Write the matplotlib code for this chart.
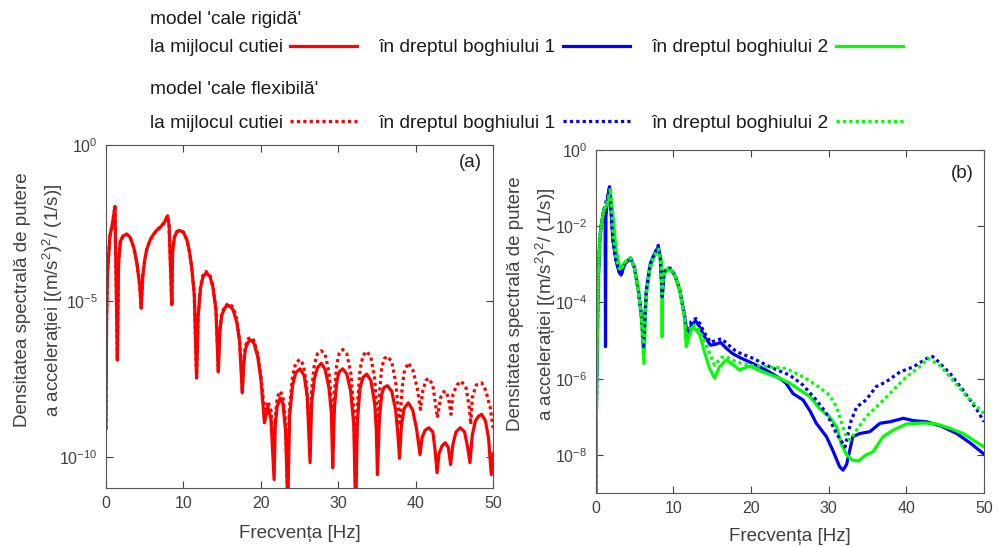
import numpy as np
import matplotlib
matplotlib.use('Agg')
import matplotlib.pyplot as plt

plt.rcParams['font.family'] = ['Liberation Sans', 'DejaVu Sans']
plt.rcParams['mathtext.fontset'] = 'custom'
plt.rcParams['mathtext.rm'] = 'Liberation Sans'
plt.rcParams['mathtext.it'] = 'Liberation Sans:italic'
plt.rcParams['axes.unicode_minus'] = False

# ---- (a) la mijlocul cutiei, values are log10 of the PSD ----
freq_a_rigid = [0, 0.08, 0.2, 0.5, 0.85, 1.16, 1.47, 1.62, 1.85, 2.2, 2.67, 3.1, 3.6, 4.0, 4.35, 4.55,
                4.75, 5.0, 5.25, 5.7, 6.1, 6.5, 7.0, 7.5, 7.96, 8.15, 8.5, 8.6, 8.85, 9.15, 9.52, 10.0,
                10.45, 10.8, 11.1, 11.4, 11.7, 11.9, 12.2, 12.5, 12.9, 13.4, 13.8, 14.2, 14.5,
                14.7, 14.95, 15.4, 15.9, 16.4, 16.9, 17.25, 17.6, 17.8, 18.0, 18.35, 18.7, 19.1, 19.6,
                20.0, 20.46, 20.9, 21.3, 21.71, 21.85, 22.1, 22.48, 22.85, 23.2, 23.47,
                23.7, 24.1, 24.5, 25.06, 25.6, 26.0, 26.35, 26.55, 26.9, 27.3, 27.8, 28.3, 28.8, 29.1,
                29.28, 29.5, 29.8, 30.1, 30.57, 31.1, 31.6, 32.0, 32.24, 32.45, 32.8, 33.2, 33.66,
                34.2, 34.7, 34.9, 35.05, 35.3, 35.6, 35.9, 36.33, 36.9, 37.4, 37.7, 37.9, 38.15, 38.5,
                39.04, 39.6, 40.1, 40.55, 40.8, 41.2, 41.7, 42.2, 42.5, 42.75, 43.0, 43.4, 43.8,
                44.2, 44.5, 44.8, 45.2, 45.75, 46.3, 46.7, 47.0, 47.3, 47.7, 48.1, 48.5, 49.0, 49.4,
                49.75, 50.0]
psd_a_rigid = [-9.1, -5.5, -4.1, -2.93, -2.5, -1.97, -6.9, -3.8, -3.1, -2.92, -2.86, -2.95, -3.3, -3.8, -4.5, -5.23,
               -4.2, -3.7, -3.36, -3.05, -2.88, -2.75, -2.64, -2.5, -2.27, -2.6, -5.12, -3.4, -2.95, -2.78, -2.74, -2.8,
               -3.04, -3.45, -4.0, -4.8, -7.47, -5.5, -4.6, -4.25, -4.11, -4.2, -4.55, -5.3, -7.28,
               -6.0, -5.45, -5.2, -5.15, -5.28, -5.7, -6.3, -7.95, -7.0, -6.55, -6.32, -6.26, -6.35, -6.8,
               -7.5, -8.91, -8.38, -8.8, -10.73, -9.0, -8.4, -8.11, -8.3, -9.2, -11.6,
               -8.7, -7.7, -7.3, -7.18, -7.4, -8.1, -10.19, -8.3, -7.5, -7.15, -7.0, -7.2, -7.8, -8.6,
               -10.35, -8.4, -7.6, -7.28, -7.18, -7.35, -7.9, -9.0, -11.8, -8.9, -7.8, -7.45, -7.35,
               -7.55, -8.3, -9.1, -10.57, -8.8, -8.0, -7.78, -7.72, -7.9, -8.5, -9.3, -10.05, -9.0, -8.45,
               -8.27, -8.5, -9.1, -9.93, -9.4, -9.15, -9.07, -9.2, -9.8, -10.51, -9.9, -9.65, -9.55,
               -9.7, -10.25, -9.6, -9.2, -9.07, -9.2, -9.7, -10.19, -9.3, -8.85, -8.7, -8.64, -8.85, -9.4,
               -10.57, -9.9]

freq_a_flex = freq_a_rigid[:37] + [
    11.9, 12.2, 12.5, 12.9, 13.4, 13.8, 14.2, 14.5,
    14.7, 14.95, 15.4, 15.9, 16.4, 16.9, 17.25, 17.6, 17.8, 18.0, 18.35, 18.7, 19.1, 19.6,
    20.0, 20.5, 20.9, 21.3, 21.71, 21.85, 22.1, 22.48, 22.85, 23.2, 23.47,
    23.7, 24.1, 24.5, 25.0, 25.5, 25.9, 26.3, 26.55, 26.9, 27.3, 27.8, 28.3, 28.8, 29.1,
    29.3, 29.5, 29.8, 30.1, 30.57, 31.1, 31.6, 32.0, 32.24, 32.45, 32.8, 33.2, 33.66,
    34.2, 34.7, 35.0, 35.1, 35.3, 35.6, 35.95, 36.33, 36.9, 37.4, 37.8, 37.96, 38.2, 38.5,
    39.0, 39.6, 40.2, 40.6, 40.9, 41.3, 41.7, 42.2, 42.8, 43.2, 43.6, 43.9, 44.2, 44.55,
    44.8, 45.3, 45.9, 46.5, 46.9, 47.1, 47.3, 47.8, 48.5, 49.0, 49.6, 50.0]
psd_a_flex = psd_a_rigid[:37] + [
    -5.5, -4.55, -4.2, -4.06, -4.16, -4.5, -5.25, -7.1,
    -5.95, -5.4, -5.15, -5.08, -5.2, -5.6, -6.25, -7.8, -6.9, -6.45, -6.22, -6.17, -6.27, -6.7,
    -7.4, -8.6, -8.22, -8.5, -10.0, -8.8, -8.1, -7.9, -8.05, -8.9, -11.5,
    -8.4, -7.4, -7.0, -6.88, -7.05, -7.7, -9.4, -7.9, -7.05, -6.7, -6.6, -6.72, -7.3, -8.2,
    -9.5, -7.9, -7.05, -6.7, -6.56, -6.7, -7.3, -8.5, -11.3, -8.4, -7.2, -6.75, -6.62,
    -6.8, -7.5, -8.6, -9.8, -8.0, -7.15, -6.85, -6.78, -6.95, -7.6, -8.6, -9.0, -7.9, -7.3,
    -6.99, -7.2, -7.8, -8.48, -7.9, -7.55, -7.49, -7.7, -8.75, -8.1, -7.92, -7.9, -8.1, -8.64,
    -8.0, -7.7, -7.58, -7.8, -8.4, -8.96, -8.1, -7.7, -7.63, -7.85, -8.4, -9.1]

# ---- (b) in dreptul boghiurilor, log10 of the PSD ----
freq_b1_rigid = [0, 0.05, 0.12, 0.3, 0.5, 0.7, 1.03, 1.2, 1.25, 1.3, 1.5, 1.77, 2.2, 2.6, 3.0, 3.26, 3.7,
                 4.47, 5.0, 5.5, 5.9, 6.17, 6.5, 7.0, 7.5, 8.04, 8.3, 8.55, 8.8, 9.2, 9.6, 10.2, 10.8,
                 11.4, 11.8, 12.3, 12.85, 13.4, 14.0, 14.78, 15.4, 16.07, 16.8, 17.6, 18.6, 19.8, 21.9,
                 23.7, 24.5, 25.4, 26.7, 27.6, 28.4, 29.7, 30.5, 31.4, 31.85, 32.3, 33.1, 34.0, 35.3,
                 36.6, 37.9, 39.6, 40.9, 42.6, 44.4, 46.5, 48.3, 50.0]
psd_b1_rigid = [-9.1, -7.5, -6.0, -3.5, -2.4, -1.97, -1.57, -1.75, -5.16, -1.75, -1.3, -0.96, -2.36, -2.9,
                -3.2, -3.28, -3.0, -2.83, -3.1, -3.7, -4.4, -5.0, -3.7, -3.0, -2.75, -2.54, -2.8, -3.85,
                -3.2, -3.13, -3.13, -3.3, -3.67, -4.3, -4.9, -4.6, -4.48, -4.65, -4.9, -5.12, -5.1, -5.05,
                -5.2, -5.34, -5.45, -5.56, -5.77, -5.99, -6.12, -6.39, -6.56, -6.85, -7.17, -7.52, -7.87,
                -8.31, -8.40, -8.25, -7.52, -7.44, -7.39, -7.17, -7.13, -7.04, -7.1, -7.13, -7.24, -7.44,
                -7.7, -7.98]

freq_b2_rigid = [0, 0.05, 0.12, 0.3, 0.5, 0.7, 1.03, 1.4, 1.9, 2.2, 2.6, 3.0, 3.26, 3.7, 4.47, 5.0, 5.5,
                 5.9, 6.19, 6.5, 7.0, 7.5, 7.9, 8.1, 8.45, 8.55, 8.62, 8.8, 9.2, 9.6, 10.2, 10.8, 11.4,
                 11.65, 12.0, 12.4, 12.9, 13.4, 14.0, 14.6, 15.3, 15.9, 16.8, 17.6, 18.5, 19.8, 21.5,
                 23.7, 25.0, 26.3, 27.6, 28.8, 30.1, 31.0, 31.6, 32.3, 33.1, 33.8, 34.8, 35.7, 37.0,
                 38.3, 40.0, 42.2, 43.9, 45.6, 47.3, 48.6, 50.0]
psd_b2_rigid = [-9.1, -7.5, -6.0, -3.5, -2.4, -1.97, -1.57, -1.45, -1.14, -1.7, -2.6, -3.0, -3.1, -2.95,
                -2.83, -3.1, -3.7, -4.5, -5.6, -3.8, -3.1, -2.8, -2.65, -2.67, -2.9, -4.9, -3.4, -3.24,
                -3.15, -3.13, -3.3, -3.67, -4.37, -5.16, -4.9, -4.65, -4.72, -4.85, -5.3, -5.7, -5.99,
                -5.7, -5.51, -5.62, -5.77, -5.67, -5.82, -5.99, -6.12, -6.3, -6.47, -6.78, -7.0, -7.26,
                -7.7, -8.0, -8.14, -8.16, -8.0, -7.92, -7.52, -7.35, -7.19, -7.16, -7.19, -7.3, -7.44,
                -7.61, -7.79]

freq_b1_flex = [0, 0.05, 0.12, 0.3, 0.5, 0.7, 1.03, 1.4, 1.77, 2.2, 2.6, 3.0, 3.26, 3.7, 4.47, 5.0, 5.5,
                5.9, 6.15, 6.5, 7.0, 7.5, 8.04, 8.3, 8.55, 8.8, 9.2, 9.6, 10.2, 10.8, 11.4, 11.8, 12.3,
                12.9, 13.4, 14.0, 14.8, 15.4, 16.2, 17.0, 18.1, 20.3, 22.4, 25.0, 26.7, 28.4, 29.7, 31.0,
                32.1, 32.9, 33.6, 34.8, 36.1, 37.4, 39.2, 40.9, 42.6, 43.4, 43.9, 45.6, 47.3, 49.1, 50.0]
psd_b1_flex = [-9.1, -7.5, -6.0, -3.5, -2.4, -1.97, -1.57, -1.3, -0.96, -2.36, -2.9, -3.2, -3.28, -3.0,
               -2.83, -3.1, -3.7, -4.4, -5.16, -3.7, -3.0, -2.75, -2.5, -2.8, -3.85, -3.2, -3.1, -3.1,
               -3.28, -3.65, -4.3, -4.85, -4.5, -4.42, -4.55, -4.8, -5.05, -5.0, -4.95, -5.1, -5.29,
               -5.47, -5.69, -5.91, -6.17, -6.56, -6.91, -7.44, -7.79, -7.09, -6.74, -6.56, -6.21,
               -6.08, -5.82, -5.69, -5.47, -5.42, -5.51, -5.86, -6.3, -6.82, -7.13]

freq_b2_flex = [0, 0.05, 0.12, 0.3, 0.5, 0.7, 1.03, 1.4, 1.9, 2.2, 2.6, 3.0, 3.26, 3.7, 4.47, 5.0, 5.5,
                5.9, 6.15, 6.5, 7.0, 7.5, 8.04, 8.3, 8.55, 8.8, 9.2, 9.6, 10.2, 10.8, 11.4, 11.75, 12.3,
                12.9, 13.4, 14.0, 14.6, 15.3, 16.1, 16.8, 18.1, 19.8, 22.4, 24.5, 26.7, 28.4, 30.1, 31.0,
                32.1, 32.7, 33.6, 34.8, 36.6, 38.3, 40.0, 41.7, 42.8, 44.3, 46.0, 47.8, 49.1, 50.0]
psd_b2_flex = [-9.1, -7.5, -6.0, -3.5, -2.4, -1.97, -1.57, -1.4, -1.0, -2.2, -2.85, -3.1, -3.15, -2.95,
               -2.83, -3.1, -3.7, -4.4, -5.1, -3.7, -3.05, -2.8, -2.6, -2.85, -3.6, -3.2, -3.12, -3.12,
               -3.3, -3.67, -4.35, -5.0, -4.6, -4.6, -4.75, -5.0, -5.3, -5.65, -5.45, -5.42, -5.56,
               -5.65, -5.69, -5.73, -5.95, -6.17, -6.43, -6.74, -7.44, -7.61, -7.35, -7.0, -6.65, -6.3,
               -5.95, -5.69, -5.47, -5.65, -6.04, -6.47, -6.74, -6.91]

xticks = [0, 10, 20, 30, 40, 50]
yticks_a = [1e0, 1e-5, 1e-10]
yticks_b = [1e0, 1e-2, 1e-4, 1e-6, 1e-8]

red = '#ff0000'
blue = '#0000ff'
green = '#00ff00'
gray = '#404040'
lw = 2.3
dot = (0, (1, 1))

fig = plt.figure(figsize=(9.98, 5.47), dpi=100)
ax1 = fig.add_axes([0.1062, 0.108, 0.388, 0.627])
ax2 = fig.add_axes([0.597, 0.0987, 0.389, 0.627])

l_red_f, = ax1.plot(freq_a_flex, 10 ** np.array(psd_a_flex), color=red, lw=lw, ls=dot)
l_red, = ax1.plot(freq_a_rigid, 10 ** np.array(psd_a_rigid), color=red, lw=lw)

l_blue, = ax2.plot(freq_b1_rigid, 10 ** np.array(psd_b1_rigid), color=blue, lw=lw)
l_green, = ax2.plot(freq_b2_rigid, 10 ** np.array(psd_b2_rigid), color=green, lw=lw)
l_blue_f, = ax2.plot(freq_b1_flex, 10 ** np.array(psd_b1_flex), color=blue, lw=lw, ls=dot)
l_green_f, = ax2.plot(freq_b2_flex, 10 ** np.array(psd_b2_flex), color=green, lw=lw, ls=dot)

ylabel = 'Densitatea spectrală de putere\na accelerației [(m/s$^2$)$^2$/ (1/s)]'
for ax, yl, yt in [(ax1, (1e-11, 1), yticks_a), (ax2, (1e-9, 1), yticks_b)]:
    ax.set_yscale('log')
    ax.set_xlim(0, 50)
    ax.set_ylim(*yl)
    ax.set_xticks(xticks)
    ax.set_yticks(yt)
    ax.yaxis.set_minor_locator(matplotlib.ticker.NullLocator())
    ax.tick_params(direction='in', length=5, width=0.8, top=True, right=True,
                   labelsize=11.5, colors=gray, pad=6)
    for s in ax.spines.values():
        s.set_color('#555555')
        s.set_linewidth(0.8)
    ax.set_xlabel('Frecvența [Hz]', fontsize=13.5, color=gray)
    ax.set_ylabel(ylabel, fontsize=13.5, color=gray, linespacing=1.55)

ax1.xaxis.set_label_coords(0.5, -0.108)
ax2.xaxis.set_label_coords(0.5, -0.103)
ax1.yaxis.set_label_coords(-0.106, 0.548)
ax2.yaxis.set_label_coords(-0.097, 0.551)

ax1.text(0.94, 0.948, '(a)', transform=ax1.transAxes, ha='center', va='center', fontsize=13.5, color='#222222')
ax2.text(0.943, 0.933, '(b)', transform=ax2.transAxes, ha='center', va='center', fontsize=13.5, color='#222222')

leg_kw = dict(loc='upper left', ncol=3, markerfirst=False, frameon=False, alignment='left',
              fontsize=13.8, title_fontsize=13.8, handlelength=3.5, handletextpad=0.4,
              columnspacing=1.1, borderpad=0, borderaxespad=0, labelcolor='#1a1a1a')
leg1 = fig.legend(handles=[l_red, l_blue, l_green],
                  labels=['la mijlocul cutiei', 'în dreptul boghiului 1', 'în dreptul boghiului 2'],
                  title="model 'cale rigidă'", bbox_to_anchor=(0.150, 0.979), labelspacing=0.55, **leg_kw)
leg2 = fig.legend(handles=[l_red_f, l_blue_f, l_green_f],
                  labels=['la mijlocul cutiei', 'în dreptul boghiului 1', 'în dreptul boghiului 2'],
                  title="model 'cale flexibilă'", bbox_to_anchor=(0.150, 0.852), labelspacing=0.85, **leg_kw)
for leg in (leg1, leg2):
    leg.get_title().set_color('#1a1a1a')

fig.savefig('out.png', dpi=100)
